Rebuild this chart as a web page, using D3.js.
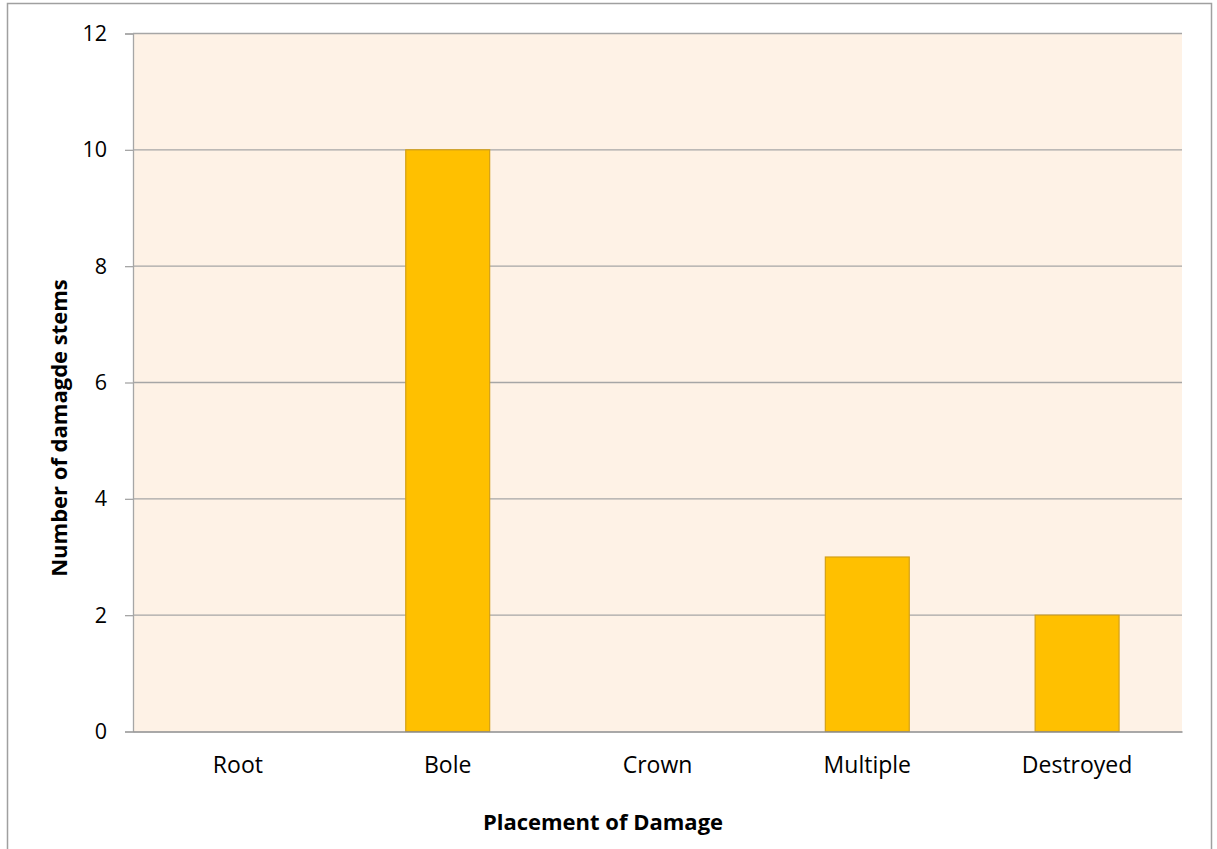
<!DOCTYPE html>
<html>
<head>
<meta charset="utf-8">
<script src="https://cdn.jsdelivr.net/npm/d3@7"></script>
<style>
  html, body { margin: 0; padding: 0; background: #fff; }
  svg { display: block; font-family: "Open Sans", sans-serif; }
</style>
</head>
<body>
<svg id="chart" width="1217" height="849"></svg>
<script>
// Damage placement counts
const categories = ["Root", "Bole", "Crown", "Multiple", "Destroyed"];
const stems = [0, 10, 0, 3, 2];
const yTicks = [0, 2, 4, 6, 8, 10, 12];
const xTitle = "Placement of Damage";
const yTitle = "Number of damagde stems";

const svg = d3.select("#chart");
const plot = { left: 133, top: 33.5, right: 1182, bottom: 731.5 };
const FONT = "'Open Sans', sans-serif";

// outer chart frame
svg.append("rect")
  .attr("x", 7.5).attr("y", 3.5)
  .attr("width", 1204).attr("height", 860)
  .attr("fill", "#fff").attr("stroke", "#a0a0a0").attr("stroke-width", 1.5);

const x = d3.scaleBand().domain(categories).range([plot.left, plot.right]).paddingInner(0).paddingOuter(0);
const y = d3.scaleLinear().domain([0, 12]).range([plot.bottom, plot.top]);

// plot background
svg.append("rect")
  .attr("x", plot.left).attr("y", plot.top)
  .attr("width", plot.right - plot.left).attr("height", plot.bottom - plot.top)
  .attr("fill", "#fef2e6");

// y axis with outside ticks
const yAxis = d3.axisLeft(y).tickValues(yTicks).tickSize(8).tickPadding(18).tickFormat(d3.format("d"));
const gy = svg.append("g").attr("transform", `translate(${plot.left},0)`).call(yAxis);
gy.attr("font-size", null).attr("font-family", null);
gy.select(".domain").attr("stroke", "#a6a6a6").attr("stroke-width", 1.3);
gy.selectAll(".tick line").attr("stroke", "#a6a6a6").attr("stroke-width", 1.3);
gy.selectAll(".tick text").attr("font-size", 21.5).attr("fill", "#000").attr("font-family", FONT);

// horizontal gridlines
svg.append("g").selectAll("line")
  .data(yTicks.filter(d => d > 0))
  .join("line")
  .attr("x1", plot.left).attr("x2", plot.right)
  .attr("y1", d => y(d)).attr("y2", d => y(d))
  .attr("stroke", "#a6a6a6").attr("stroke-width", 1.3);

// bars (gap width 150%)
const barW = x.bandwidth() / 2.5;
svg.append("g").selectAll("rect")
  .data(categories.map((c, i) => ({ c, v: stems[i] })).filter(d => d.v > 0))
  .join("rect")
  .attr("x", d => x(d.c) + (x.bandwidth() - barW) / 2)
  .attr("y", d => y(d.v))
  .attr("width", barW)
  .attr("height", d => y(0) - y(d.v))
  .attr("fill", "#ffc000")
  .attr("stroke", "#d4a017").attr("stroke-width", 1.2);

// x axis
const xAxis = d3.axisBottom(x).tickSize(0).tickPadding(25);
const gx = svg.append("g").attr("transform", `translate(0,${plot.bottom})`).call(xAxis);
gx.attr("font-size", null).attr("font-family", null);
gx.select(".domain").attr("stroke", "#8c8c8c").attr("stroke-width", 1.3);
gx.selectAll(".tick text").attr("font-size", 23).attr("fill", "#000").attr("font-family", FONT);

// axis titles
svg.append("text")
  .attr("x", 603).attr("y", 830)
  .attr("text-anchor", "middle").attr("font-size", 22).attr("font-weight", "bold")
  .attr("font-family", FONT)
  .text(xTitle);

svg.append("text")
  .attr("transform", "translate(67,428) rotate(-90)")
  .attr("text-anchor", "middle").attr("font-size", 22).attr("font-weight", "bold")
  .attr("font-family", FONT)
  .text(yTitle);
</script>
</body>
</html>
